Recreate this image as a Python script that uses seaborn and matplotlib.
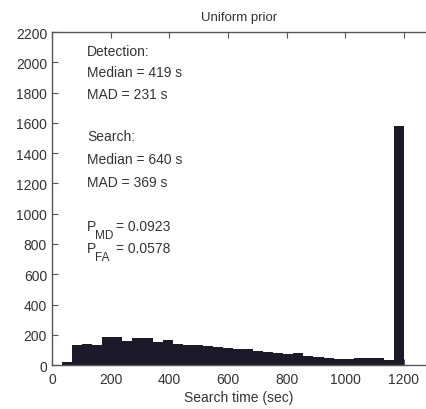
import numpy as np
import pandas as pd
import matplotlib
matplotlib.use("Agg")
import matplotlib.pyplot as plt
import seaborn as sns

# Histogram of search times: 35 equal bins over 0-1200 s (last bin holds the timeouts)
n_bins = 35
t_max = 1200
counts = [0, 20, 132, 138, 132, 185, 185, 162, 176, 178,
          152, 163, 140, 133, 130, 125, 120, 112, 108, 105,
          95, 85, 82, 72, 78, 60, 55, 45, 43, 42,
          45, 48, 50, 35, 1580]

x_ticks = [0, 200, 400, 600, 800, 1000, 1200]
y_ticks = list(range(0, 2201, 200))

stats_lines = ["Detection:", "Median = 419 s", "MAD = 231 s",
               "Search:", "Median = 640 s", "MAD = 369 s"]
p_md = 0.0923
p_fa = 0.0578

sns.set_theme(style="white")
plt.rcParams["font.family"] = ["Liberation Sans", "DejaVu Sans"]

width = t_max / n_bins
centers = width * (np.arange(n_bins) + 0.5)
df = pd.DataFrame({"time": centers, "count": counts})

fig = plt.figure(figsize=(4.26, 4.10), dpi=100)
ax = fig.add_axes([0.122, 0.107, 0.878, 0.8125])

sns.histplot(data=df, x="time", weights="count", binwidth=width,
             binrange=(0, t_max), color="#1c1a28", edgecolor="none",
             linewidth=0, alpha=1.0, ax=ax)

ax.set_xlim(0, 1275)
ax.set_ylim(0, 2200)
ax.set_xticks(x_ticks)
ax.set_yticks(y_ticks)
txt_color = "#333333"
ax.tick_params(axis="both", direction="in", length=4, width=0.8,
               colors="#555555", labelcolor=txt_color, labelsize=10,
               top=True, bottom=True, left=True, right=False)
ax.tick_params(axis="x", pad=5)
for side in ["left", "top", "bottom"]:
    ax.spines[side].set_color("#555555")
    ax.spines[side].set_linewidth(1.0)
ax.spines["right"].set_visible(False)

ax.set_ylabel("")
ax.set_xlabel("Search time (sec)", fontsize=10, color=txt_color, labelpad=3)
ax.set_title("Uniform prior", fontsize=9.5, color=txt_color, pad=9)

# Summary statistics in the upper left
x0 = 0.094
y_pos = [0.943, 0.880, 0.814, 0.688, 0.619, 0.550]
for line, yp in zip(stats_lines, y_pos):
    ax.text(x0, yp, line, transform=ax.transAxes, fontsize=10,
            color=txt_color, va="center", ha="left")


def prob_label(y, sub, value):
    ax.annotate("P", xy=(x0, y), xycoords="axes fraction", fontsize=10,
                color=txt_color, va="center", ha="left")
    ax.annotate(sub, xy=(x0, y), xycoords="axes fraction",
                xytext=(5.8, -6.5), textcoords="offset points",
                fontsize=8.5, color=txt_color, va="center", ha="left")
    ax.annotate(f"= {value:.4f}", xy=(x0, y), xycoords="axes fraction",
                xytext=(20.5, 0), textcoords="offset points",
                fontsize=10, color=txt_color, va="center", ha="left")


prob_label(0.418, "MD", p_md)
prob_label(0.353, "FA", p_fa)

fig.savefig("out.png", dpi=100)
